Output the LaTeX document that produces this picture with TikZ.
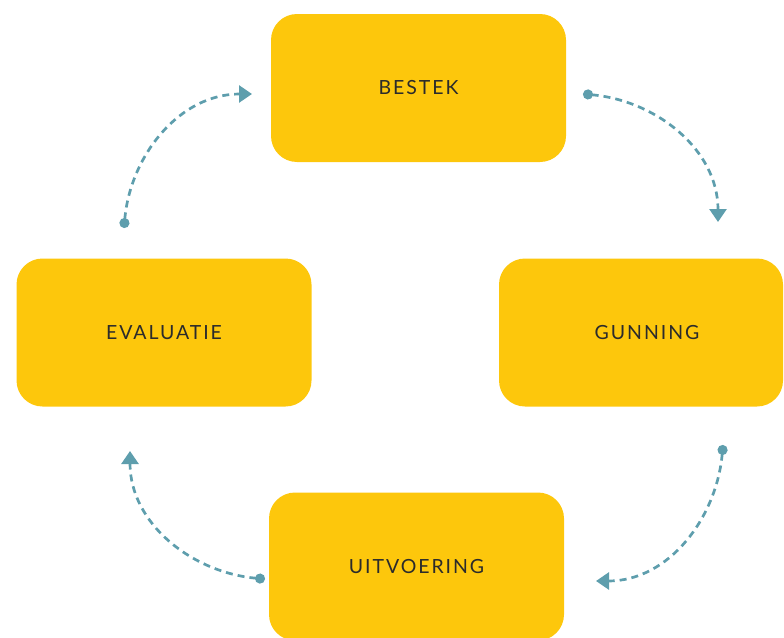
\documentclass[tikz,border=0pt]{standalone}
\usepackage{fontspec}
\setmainfont{Lato}
\newfontfamily\phasefont[LetterSpace=10]{Lato}
\usetikzlibrary{arrows.meta}

\definecolor{phaseyellow}{HTML}{FDC70C}
\definecolor{flowteal}{HTML}{5E9EAD}
\definecolor{phasetext}{HTML}{2B2B2B}

\begin{document}
\begin{tikzpicture}[x=1pt,y=-1pt,
    phase/.style={fill=phaseyellow, rounded corners=26pt, minimum width=295pt,
      minimum height=148pt, inner sep=0pt, text=phasetext,
      font=\phasefont\fontsize{19.5}{22}\selectfont},
    flow/.style={flowteal, line width=2.7pt, dash pattern=on 7pt off 5pt,
      {Circle[length=10pt]}-{Triangle[length=13pt,width=17pt]}}]

  \useasboundingbox (0,0) rectangle (784,637);
  \clip (0,0) rectangle (784,637);

  % the four phases
  \node[phase] (bestek) at (418.5,88) {BESTEK};
  \node[phase, minimum width=284pt] (gunning) at (641,332.5) {\hspace*{12pt}GUNNING};
  \node[phase] (uitvoering) at (416.5,566.5) {UITVOERING};
  \node[phase] (evaluatie) at (164,332.5) {EVALUATIE};

  % ends of the arrows
  \coordinate (e1) at (124,228);  \coordinate (b1) at (252,94);
  \coordinate (b2) at (583,94);   \coordinate (g1) at (718,222);
  \coordinate (g2) at (723,445);  \coordinate (u1) at (596,581);
  \coordinate (u2) at (265,579);  \coordinate (e2) at (130,451);

  % dashed arrows round the cycle
  \draw[flow] (e1) to[out=85, in=180] (b1);
  \draw[flow] (b2) to[out=-5, in=90] (g1);
  \draw[flow] (g2) to[out=-95, in=0] (u1);
  \draw[flow] (u2) to[out=175, in=-90] (e2);

\end{tikzpicture}
\end{document}
